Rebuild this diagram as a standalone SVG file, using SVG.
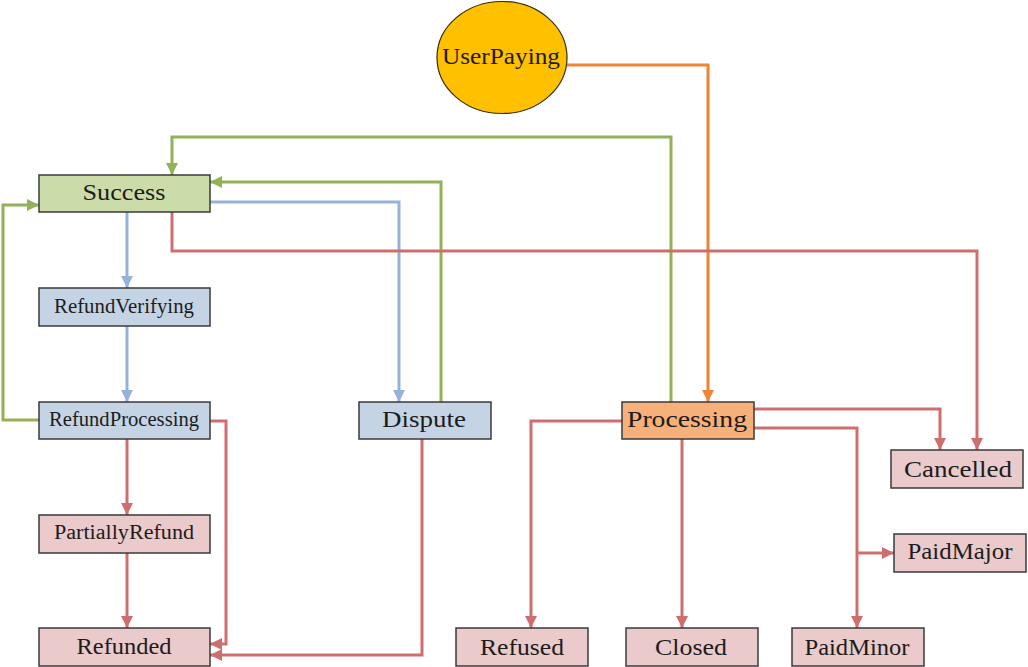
<svg xmlns="http://www.w3.org/2000/svg" width="1028" height="667" viewBox="0 0 1028 667">
  <style>
    .box { stroke: #3a3a3a; stroke-width: 1.5; }
    .green { fill: #CCDCA9; }
    .blue { fill: #C5D4E5; }
    .pink { fill: #EACACA; }
    .orange { fill: #F8B07A; }
    .lbl { font-family: "Liberation Serif", "Times New Roman", serif; fill: #1c1c1c; text-anchor: middle; }
    .big { font-size: 24px; }
    .small { font-size: 20px; }
    .edge { fill: none; stroke-width: 3; stroke-linejoin: miter; }
    .eg { stroke: #93B255; }
    .eb { stroke: #95B3D7; }
    .er { stroke: #CF6E6E; }
    .eo { stroke: #EE8434; }
  </style>
  <defs>
    <marker id="ag" markerUnits="userSpaceOnUse" markerWidth="13" markerHeight="12" refX="12" refY="6" orient="auto">
      <path d="M0,0 L12,6 L0,12 z" fill="#93B255"/>
    </marker>
    <marker id="ab" markerUnits="userSpaceOnUse" markerWidth="13" markerHeight="12" refX="12" refY="6" orient="auto">
      <path d="M0,0 L12,6 L0,12 z" fill="#95B3D7"/>
    </marker>
    <marker id="ar" markerUnits="userSpaceOnUse" markerWidth="13" markerHeight="12" refX="12" refY="6" orient="auto">
      <path d="M0,0 L12,6 L0,12 z" fill="#CF6E6E"/>
    </marker>
    <marker id="ao" markerUnits="userSpaceOnUse" markerWidth="13" markerHeight="12" refX="12" refY="6" orient="auto">
      <path d="M0,0 L12,6 L0,12 z" fill="#EE8434"/>
    </marker>
  </defs>

  <rect width="1028" height="667" fill="#ffffff"/>

  <!-- transitions -->
  <g id="connectors">
    <path class="edge eo" d="M567,65 H708 V402" marker-end="url(#ao)"/>
    <path class="edge eg" d="M671,402 V137 H172 V175" marker-end="url(#ag)"/>
    <path class="edge eg" d="M441,402 V182 H210" marker-end="url(#ag)"/>
    <path class="edge eg" d="M39,420 H3 V205 H39" marker-end="url(#ag)"/>
    <path class="edge eb" d="M210,202 H399 V402" marker-end="url(#ab)"/>
    <path class="edge eb" d="M127,212 V288" marker-end="url(#ab)"/>
    <path class="edge eb" d="M127,326 V402" marker-end="url(#ab)"/>
    <path class="edge er" d="M172,212 V251 H977 V450" marker-end="url(#ar)"/>
    <path class="edge er" d="M127,439 V515" marker-end="url(#ar)"/>
    <path class="edge er" d="M127,553 V628" marker-end="url(#ar)"/>
    <path class="edge er" d="M210,421 H226 V644 H210" marker-end="url(#ar)"/>
    <path class="edge er" d="M422,439 V655 H210" marker-end="url(#ar)"/>
    <path class="edge er" d="M622,421 H531 V628" marker-end="url(#ar)"/>
    <path class="edge er" d="M682,439 V628" marker-end="url(#ar)"/>
    <path class="edge er" d="M754,409 H940 V450" marker-end="url(#ar)"/>
    <path class="edge er" d="M754,428 H857 V628" marker-end="url(#ar)"/>
    <path class="edge er" d="M857,553 H894" marker-end="url(#ar)"/>
  </g>

  <!-- states -->
  <g id="UserPaying">
    <ellipse cx="502" cy="57.5" rx="65" ry="56" fill="#FFC000" stroke="#3a2a00" stroke-width="1.2"/>
    <text class="lbl big" x="501" y="64" textLength="118" lengthAdjust="spacingAndGlyphs">UserPaying</text>
  </g>
  <g id="Success">
    <rect class="box green" x="39" y="175" width="171" height="37"/>
    <text class="lbl big" x="124" y="200" textLength="83" lengthAdjust="spacingAndGlyphs">Success</text>
  </g>
  <g id="RefundVerifying">
    <rect class="box blue" x="39" y="288" width="171" height="38"/>
    <text class="lbl small" x="124" y="313" textLength="140" lengthAdjust="spacingAndGlyphs">RefundVerifying</text>
  </g>
  <g id="RefundProcessing">
    <rect class="box blue" x="39" y="402" width="171" height="37"/>
    <text class="lbl small" x="124" y="426" textLength="150" lengthAdjust="spacingAndGlyphs">RefundProcessing</text>
  </g>
  <g id="PartiallyRefund">
    <rect class="box pink" x="39" y="515" width="171" height="38"/>
    <text class="lbl small" x="124" y="539" textLength="140" lengthAdjust="spacingAndGlyphs">PartiallyRefund</text>
  </g>
  <g id="Refunded">
    <rect class="box pink" x="39" y="628" width="171" height="38"/>
    <text class="lbl big" x="124" y="654" textLength="95" lengthAdjust="spacingAndGlyphs">Refunded</text>
  </g>
  <g id="Dispute">
    <rect class="box blue" x="359" y="402" width="132" height="37"/>
    <text class="lbl big" x="424" y="427" textLength="84" lengthAdjust="spacingAndGlyphs">Dispute</text>
  </g>
  <g id="Processing">
    <rect class="box orange" x="622" y="402" width="132" height="37"/>
    <text class="lbl big" x="687" y="427" textLength="120" lengthAdjust="spacingAndGlyphs">Processing</text>
  </g>
  <g id="Cancelled">
    <rect class="box pink" x="891" y="450" width="132" height="38"/>
    <text class="lbl big" x="958" y="477" textLength="108" lengthAdjust="spacingAndGlyphs">Cancelled</text>
  </g>
  <g id="PaidMajor">
    <rect class="box pink" x="894" y="534" width="132" height="38"/>
    <text class="lbl big" x="960" y="559" textLength="105" lengthAdjust="spacingAndGlyphs">PaidMajor</text>
  </g>
  <g id="Refused">
    <rect class="box pink" x="456" y="628" width="132" height="38"/>
    <text class="lbl big" x="522" y="655" textLength="84" lengthAdjust="spacingAndGlyphs">Refused</text>
  </g>
  <g id="Closed">
    <rect class="box pink" x="626" y="628" width="132" height="38"/>
    <text class="lbl big" x="691" y="655" textLength="72" lengthAdjust="spacingAndGlyphs">Closed</text>
  </g>
  <g id="PaidMinor">
    <rect class="box pink" x="792" y="628" width="132" height="38"/>
    <text class="lbl big" x="857" y="655" textLength="105" lengthAdjust="spacingAndGlyphs">PaidMinor</text>
  </g>
</svg>
